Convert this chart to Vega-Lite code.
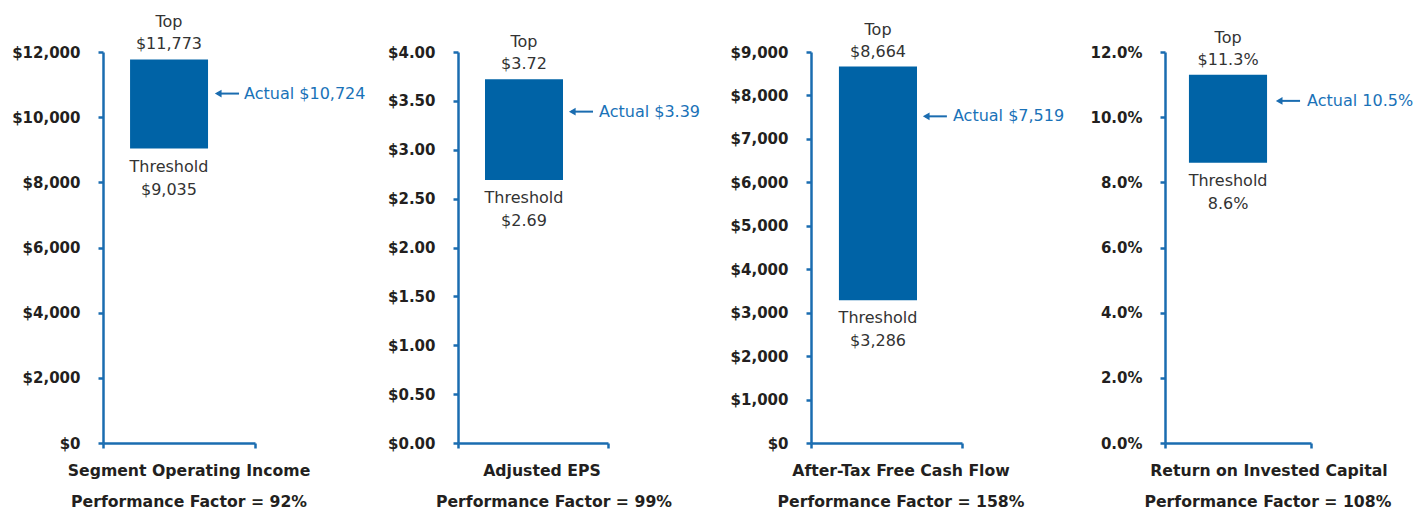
{
  "$schema": "https://vega.github.io/schema/vega-lite/v6.json",
  "background": "white",
  "padding": {"left": 11, "top": 14, "right": 5, "bottom": 0},
  "spacing": 203,
  "bounds": "flush",
  "config": {
    "view": {"stroke": null},
    "axis": {"grid": false, "domainColor": "#1a6cb0", "domainWidth": 2.5, "tickColor": "#1a6cb0", "tickWidth": 2.5, "tickSize": 5, "labelFont": "DejaVu Sans", "labelFontWeight": "bold", "labelFontSize": 15, "labelColor": "#231f20", "labelPadding": 18},
    "text": {"font": "DejaVu Sans", "fontSize": 16, "color": "#333333", "baseline": "alphabetic"}
  },
  "hconcat": [
    {
      "width": 152, "height": 391,
      "data": {"values": [{"metric": "Segment Operating Income", "threshold": 9035, "top": 11773, "actual": 10724, "factor": 0.92}]},
      "transform": [
        {"calculate": "'Actual ' + format(datum.actual, '$,.0f')", "as": "actual_label"},
        {"calculate": "'Performance Factor = ' + format(datum.factor, '.0%')", "as": "pf_label"}
      ],
      "layer": [
        {"mark": {"type": "bar", "color": "#0063a6"},
         "encoding": {
           "x": {"datum": 0.178, "type": "quantitative", "title": null, "scale": {"domain": [0, 1]}, "axis": {"values": [0, 1], "labels": false, "title": null}},
           "x2": {"datum": 0.691},
           "y": {"field": "threshold", "type": "quantitative", "title": null, "scale": {"domain": [0, 12000]}, "axis": {"values": [0, 2000, 4000, 6000, 8000, 10000, 12000], "format": "$,.0f", "title": null}},
           "y2": {"field": "top"}}},
        {"mark": {"type": "text", "dy": -32}, "encoding": {"x": {"datum": 0.434, "type": "quantitative", "title": null}, "y": {"field": "top", "type": "quantitative", "title": null}, "text": {"value": "Top"}}},
        {"mark": {"type": "text", "dy": -10}, "encoding": {"x": {"datum": 0.434, "type": "quantitative", "title": null}, "y": {"field": "top", "type": "quantitative", "title": null}, "text": {"field": "top", "format": "$,.0f"}}},
        {"mark": {"type": "text", "dy": 23}, "encoding": {"x": {"datum": 0.434, "type": "quantitative", "title": null}, "y": {"field": "threshold", "type": "quantitative", "title": null}, "text": {"value": "Threshold"}}},
        {"mark": {"type": "text", "dy": 46}, "encoding": {"x": {"datum": 0.434, "type": "quantitative", "title": null}, "y": {"field": "threshold", "type": "quantitative", "title": null}, "text": {"field": "threshold", "format": "$,.0f"}}},
        {"mark": {"type": "rule", "color": "#1a6cb0", "strokeWidth": 2}, "encoding": {"x": {"datum": 0.75, "type": "quantitative", "title": null}, "x2": {"datum": 0.895}, "y": {"field": "actual", "type": "quantitative", "title": null}}},
        {"mark": {"type": "point", "shape": "triangle-left", "filled": true, "size": 60, "color": "#1a6cb0", "opacity": 1}, "encoding": {"x": {"datum": 0.758, "type": "quantitative", "title": null}, "y": {"field": "actual", "type": "quantitative", "title": null}}},
        {"mark": {"type": "text", "align": "left", "baseline": "middle", "color": "#1a72b8"}, "encoding": {"x": {"datum": 0.928, "type": "quantitative", "title": null}, "y": {"field": "actual", "type": "quantitative", "title": null}, "text": {"field": "actual_label"}}},
        {"mark": {"type": "text", "dy": 33, "fontWeight": "bold", "fontSize": 15.7, "color": "#231f20"}, "encoding": {"x": {"datum": 0.566, "type": "quantitative", "title": null}, "y": {"datum": 0, "type": "quantitative", "title": null}, "text": {"field": "metric"}}},
        {"mark": {"type": "text", "dy": 64, "fontWeight": "bold", "fontSize": 15.7, "color": "#231f20"}, "encoding": {"x": {"datum": 0.566, "type": "quantitative", "title": null}, "y": {"datum": 0, "type": "quantitative", "title": null}, "text": {"field": "pf_label"}}}
      ]
    },
    {
      "width": 150, "height": 391,
      "data": {"values": [{"metric": "Adjusted EPS", "threshold": 2.69, "top": 3.72, "actual": 3.39, "factor": 0.99}]},
      "transform": [
        {"calculate": "'Actual ' + format(datum.actual, '$.2f')", "as": "actual_label"},
        {"calculate": "'Performance Factor = ' + format(datum.factor, '.0%')", "as": "pf_label"}
      ],
      "layer": [
        {"mark": {"type": "bar", "color": "#0063a6"},
         "encoding": {
           "x": {"datum": 0.18, "type": "quantitative", "title": null, "scale": {"domain": [0, 1]}, "axis": {"values": [0, 1], "labels": false, "title": null}},
           "x2": {"datum": 0.7},
           "y": {"field": "threshold", "type": "quantitative", "title": null, "scale": {"domain": [0, 4]}, "axis": {"values": [0, 0.5, 1, 1.5, 2, 2.5, 3, 3.5, 4], "format": "$.2f", "title": null}},
           "y2": {"field": "top"}}},
        {"mark": {"type": "text", "dy": -32}, "encoding": {"x": {"datum": 0.44, "type": "quantitative", "title": null}, "y": {"field": "top", "type": "quantitative", "title": null}, "text": {"value": "Top"}}},
        {"mark": {"type": "text", "dy": -10}, "encoding": {"x": {"datum": 0.44, "type": "quantitative", "title": null}, "y": {"field": "top", "type": "quantitative", "title": null}, "text": {"field": "top", "format": "$.2f"}}},
        {"mark": {"type": "text", "dy": 23}, "encoding": {"x": {"datum": 0.44, "type": "quantitative", "title": null}, "y": {"field": "threshold", "type": "quantitative", "title": null}, "text": {"value": "Threshold"}}},
        {"mark": {"type": "text", "dy": 46}, "encoding": {"x": {"datum": 0.44, "type": "quantitative", "title": null}, "y": {"field": "threshold", "type": "quantitative", "title": null}, "text": {"field": "threshold", "format": "$.2f"}}},
        {"mark": {"type": "rule", "color": "#1a6cb0", "strokeWidth": 2}, "encoding": {"x": {"datum": 0.753, "type": "quantitative", "title": null}, "x2": {"datum": 0.9}, "y": {"field": "actual", "type": "quantitative", "title": null}}},
        {"mark": {"type": "point", "shape": "triangle-left", "filled": true, "size": 60, "color": "#1a6cb0", "opacity": 1}, "encoding": {"x": {"datum": 0.762, "type": "quantitative", "title": null}, "y": {"field": "actual", "type": "quantitative", "title": null}}},
        {"mark": {"type": "text", "align": "left", "baseline": "middle", "color": "#1a72b8"}, "encoding": {"x": {"datum": 0.94, "type": "quantitative", "title": null}, "y": {"field": "actual", "type": "quantitative", "title": null}, "text": {"field": "actual_label"}}},
        {"mark": {"type": "text", "dy": 33, "fontWeight": "bold", "fontSize": 15.7, "color": "#231f20"}, "encoding": {"x": {"datum": 0.56, "type": "quantitative", "title": null}, "y": {"datum": 0, "type": "quantitative", "title": null}, "text": {"field": "metric"}}},
        {"mark": {"type": "text", "dy": 64, "fontWeight": "bold", "fontSize": 15.7, "color": "#231f20"}, "encoding": {"x": {"datum": 0.64, "type": "quantitative", "title": null}, "y": {"datum": 0, "type": "quantitative", "title": null}, "text": {"field": "pf_label"}}}
      ]
    },
    {
      "width": 151, "height": 391,
      "data": {"values": [{"metric": "After-Tax Free Cash Flow", "threshold": 3286, "top": 8664, "actual": 7519, "factor": 1.58}]},
      "transform": [
        {"calculate": "'Actual ' + format(datum.actual, '$,.0f')", "as": "actual_label"},
        {"calculate": "'Performance Factor = ' + format(datum.factor, '.0%')", "as": "pf_label"}
      ],
      "layer": [
        {"mark": {"type": "bar", "color": "#0063a6"},
         "encoding": {
           "x": {"datum": 0.185, "type": "quantitative", "title": null, "scale": {"domain": [0, 1]}, "axis": {"values": [0, 1], "labels": false, "title": null}},
           "x2": {"datum": 0.702},
           "y": {"field": "threshold", "type": "quantitative", "title": null, "scale": {"domain": [0, 9000]}, "axis": {"values": [0, 1000, 2000, 3000, 4000, 5000, 6000, 7000, 8000, 9000], "format": "$,.0f", "title": null}},
           "y2": {"field": "top"}}},
        {"mark": {"type": "text", "dy": -32}, "encoding": {"x": {"datum": 0.444, "type": "quantitative", "title": null}, "y": {"field": "top", "type": "quantitative", "title": null}, "text": {"value": "Top"}}},
        {"mark": {"type": "text", "dy": -10}, "encoding": {"x": {"datum": 0.444, "type": "quantitative", "title": null}, "y": {"field": "top", "type": "quantitative", "title": null}, "text": {"field": "top", "format": "$,.0f"}}},
        {"mark": {"type": "text", "dy": 23}, "encoding": {"x": {"datum": 0.444, "type": "quantitative", "title": null}, "y": {"field": "threshold", "type": "quantitative", "title": null}, "text": {"value": "Threshold"}}},
        {"mark": {"type": "text", "dy": 46}, "encoding": {"x": {"datum": 0.444, "type": "quantitative", "title": null}, "y": {"field": "threshold", "type": "quantitative", "title": null}, "text": {"field": "threshold", "format": "$,.0f"}}},
        {"mark": {"type": "rule", "color": "#1a6cb0", "strokeWidth": 2}, "encoding": {"x": {"datum": 0.755, "type": "quantitative", "title": null}, "x2": {"datum": 0.9}, "y": {"field": "actual", "type": "quantitative", "title": null}}},
        {"mark": {"type": "point", "shape": "triangle-left", "filled": true, "size": 60, "color": "#1a6cb0", "opacity": 1}, "encoding": {"x": {"datum": 0.763, "type": "quantitative", "title": null}, "y": {"field": "actual", "type": "quantitative", "title": null}}},
        {"mark": {"type": "text", "align": "left", "baseline": "middle", "color": "#1a72b8"}, "encoding": {"x": {"datum": 0.94, "type": "quantitative", "title": null}, "y": {"field": "actual", "type": "quantitative", "title": null}, "text": {"field": "actual_label"}}},
        {"mark": {"type": "text", "dy": 33, "fontWeight": "bold", "fontSize": 15.7, "color": "#231f20"}, "encoding": {"x": {"datum": 0.596, "type": "quantitative", "title": null}, "y": {"datum": 0, "type": "quantitative", "title": null}, "text": {"field": "metric"}}},
        {"mark": {"type": "text", "dy": 64, "fontWeight": "bold", "fontSize": 15.7, "color": "#231f20"}, "encoding": {"x": {"datum": 0.596, "type": "quantitative", "title": null}, "y": {"datum": 0, "type": "quantitative", "title": null}, "text": {"field": "pf_label"}}}
      ]
    },
    {
      "width": 146, "height": 391,
      "data": {"values": [{"metric": "Return on Invested Capital", "threshold": 0.086, "top": 0.113, "actual": 0.105, "factor": 1.08}]},
      "transform": [
        {"calculate": "'Actual ' + format(datum.actual, '.1%')", "as": "actual_label"},
        {"calculate": "'$' + format(datum.top, '.1%')", "as": "top_label"},
        {"calculate": "'Performance Factor = ' + format(datum.factor, '.0%')", "as": "pf_label"}
      ],
      "layer": [
        {"mark": {"type": "bar", "color": "#0063a6"},
         "encoding": {
           "x": {"datum": 0.164, "type": "quantitative", "title": null, "scale": {"domain": [0, 1]}, "axis": {"values": [0, 1], "labels": false, "title": null}},
           "x2": {"datum": 0.699},
           "y": {"field": "threshold", "type": "quantitative", "title": null, "scale": {"domain": [0, 0.12]}, "axis": {"values": [0, 0.02, 0.04, 0.06, 0.08, 0.1, 0.12], "format": ".1%", "title": null}},
           "y2": {"field": "top"}}},
        {"mark": {"type": "text", "dy": -32}, "encoding": {"x": {"datum": 0.432, "type": "quantitative", "title": null}, "y": {"field": "top", "type": "quantitative", "title": null}, "text": {"value": "Top"}}},
        {"mark": {"type": "text", "dy": -10}, "encoding": {"x": {"datum": 0.432, "type": "quantitative", "title": null}, "y": {"field": "top", "type": "quantitative", "title": null}, "text": {"field": "top_label"}}},
        {"mark": {"type": "text", "dy": 23}, "encoding": {"x": {"datum": 0.432, "type": "quantitative", "title": null}, "y": {"field": "threshold", "type": "quantitative", "title": null}, "text": {"value": "Threshold"}}},
        {"mark": {"type": "text", "dy": 46}, "encoding": {"x": {"datum": 0.432, "type": "quantitative", "title": null}, "y": {"field": "threshold", "type": "quantitative", "title": null}, "text": {"field": "threshold", "format": ".1%"}}},
        {"mark": {"type": "rule", "color": "#1a6cb0", "strokeWidth": 2}, "encoding": {"x": {"datum": 0.775, "type": "quantitative", "title": null}, "x2": {"datum": 0.925}, "y": {"field": "actual", "type": "quantitative", "title": null}}},
        {"mark": {"type": "point", "shape": "triangle-left", "filled": true, "size": 60, "color": "#1a6cb0", "opacity": 1}, "encoding": {"x": {"datum": 0.782, "type": "quantitative", "title": null}, "y": {"field": "actual", "type": "quantitative", "title": null}}},
        {"mark": {"type": "text", "align": "left", "baseline": "middle", "color": "#1a72b8"}, "encoding": {"x": {"datum": 0.973, "type": "quantitative", "title": null}, "y": {"field": "actual", "type": "quantitative", "title": null}, "text": {"field": "actual_label"}}},
        {"mark": {"type": "text", "dy": 33, "fontWeight": "bold", "fontSize": 15.7, "color": "#231f20"}, "encoding": {"x": {"datum": 0.712, "type": "quantitative", "title": null}, "y": {"datum": 0, "type": "quantitative", "title": null}, "text": {"field": "metric"}}},
        {"mark": {"type": "text", "dy": 64, "fontWeight": "bold", "fontSize": 15.7, "color": "#231f20"}, "encoding": {"x": {"datum": 0.705, "type": "quantitative", "title": null}, "y": {"datum": 0, "type": "quantitative", "title": null}, "text": {"field": "pf_label"}}}
      ]
    }
  ]
}
